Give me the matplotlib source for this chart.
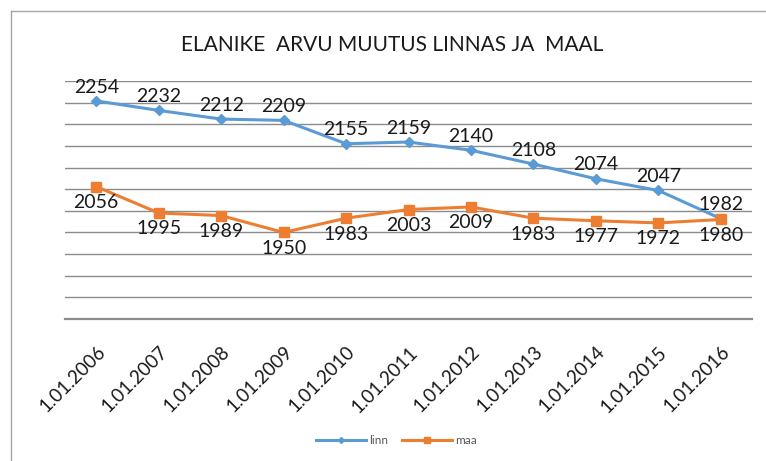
import matplotlib.pyplot as plt
from matplotlib.lines import Line2D

plt.rcParams['font.family'] = ['Lato', 'DejaVu Sans']

# data
dates = ["1.01.2006", "1.01.2007", "1.01.2008", "1.01.2009", "1.01.2010", "1.01.2011",
         "1.01.2012", "1.01.2013", "1.01.2014", "1.01.2015", "1.01.2016"]
linn = [2254, 2232, 2212, 2209, 2155, 2159, 2140, 2108, 2074, 2047, 1982]
maa = [2056, 1995, 1989, 1950, 1983, 2003, 2009, 1983, 1977, 1972, 1980]
y_ticks = list(range(1750, 2301, 50))

blue = "#5B9BD5"
orange = "#ED7D31"

fig = plt.figure(figsize=(7.66, 4.61), dpi=100)
ax = fig.add_axes([0.0849, 0.308, 0.8968, 0.5163])

x = list(range(len(dates)))
ax.plot(x, linn, color=blue, lw=2.2, marker="D", ms=5, label="linn", zorder=3)
ax.plot(x, maa, color=orange, lw=2.2, marker="s", ms=6.5, label="maa", zorder=3)

for i, v in enumerate(linn):
    ax.annotate(str(v), (i, v), xytext=(0, 10), textcoords="offset points",
                ha="center", va="center", fontsize=14, color="#1a1a1a")
for i, v in enumerate(maa):
    ax.annotate(str(v), (i, v), xytext=(0, -11.5), textcoords="offset points",
                ha="center", va="center", fontsize=14, color="#1a1a1a")

ax.set_xlim(-0.5, len(dates) - 0.5)
ax.set_ylim(y_ticks[0], y_ticks[-1])
ax.set_yticks(y_ticks)
ax.yaxis.grid(True, color="#8c8c8c", lw=1)
ax.set_axisbelow(True)
ax.tick_params(axis="y", left=False, labelleft=False)
ax.tick_params(axis="x", bottom=False, pad=14)
ax.set_xticks(x)
ax.set_xticklabels(dates, rotation=45, ha="right", rotation_mode="anchor",
                   fontsize=13.5, color="#1a1a1a")
for s in ["top", "right", "left"]:
    ax.spines[s].set_visible(False)
ax.spines["bottom"].set_color("#8c8c8c")
ax.spines["bottom"].set_linewidth(1.6)

fig.text(0.512, 0.902, "ELANIKE  ARVU MUUTUS LINNAS JA  MAAL", ha="center", va="center",
         fontsize=15, color="#1a1a1a")

leg = fig.legend(loc="center", bbox_to_anchor=(0.518, 0.045), ncol=2, frameon=False,
                 fontsize=8.5, handlelength=4.2, columnspacing=1.2, handletextpad=0.3,
                 markerscale=0.6)
for t in leg.get_texts():
    t.set_color("#595959")

# outer chart border (top and left edges visible)
fig.add_artist(Line2D([11 / 766, 1], [1 - 11 / 461] * 2, color="#a6a6a6", lw=1,
                      transform=fig.transFigure))
fig.add_artist(Line2D([11 / 766] * 2, [0, 1 - 11 / 461], color="#a6a6a6", lw=1,
                      transform=fig.transFigure))

fig.savefig("out.png", dpi=100)
